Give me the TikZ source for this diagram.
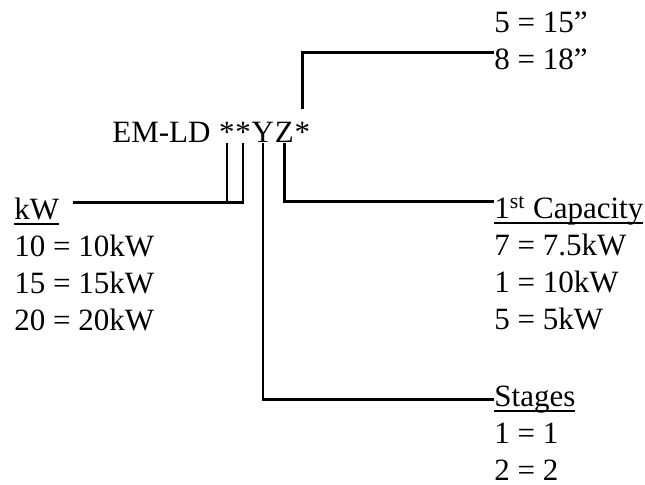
\documentclass[tikz,border=0pt]{standalone}
\usepackage{fontspec}
\setmainfont{Liberation Serif}
\usetikzlibrary{positioning}
\newcommand{\ulin}[1]{\setbox0=\hbox{#1}\rlap{\rule[-2.5pt]{\wd0}{1pt}}\box0}

\begin{document}
\begin{tikzpicture}[x=0.5pt, y=-0.5pt,
	lbl/.style={anchor=base west, inner sep=0pt, text height=13pt, text depth=5.5pt, font=\fontsize{15.5pt}{18.5pt}\selectfont},
	chr/.style={inner sep=0pt, text height=10.5pt, text depth=0pt, font=\fontsize{15.5pt}{18.5pt}\selectfont},
	wire/.style={line width=1.1pt}]
		\pgfmathsetmacro{\up}{5}
		\useasboundingbox (0,0) rectangle (645,485);
		
		% 型号
		\node[chr, anchor=base west] (model) at (112,143) {EM-LD};
		\node[chr, base right=3.9pt of model] (s1) {*};
		\node[chr, base right=0pt of s1] (s2) {*};
		\node[chr, base right=0pt of s2] (Y) {Y};
		\node[chr, base right=0pt of Y] (Z) {Z};
		\node[chr, base right=0pt of Z] (s3) {*};
		
		% 尺寸
		\node[lbl] (o15) at (494,33) {5 = 15”};
		\node[lbl] (o18) at (494,70) {8 = 18”};
		
		% 功率
		\node[lbl] (kW) at (14,220) {\ulin{kW}};
		\node[lbl] (k10) at (14,257) {10 = 10kW};
		\node[lbl] (k15) at (14,294) {15 = 15kW};
		\node[lbl] (k20) at (14,331) {20 = 20kW};
		
		% 第一级容量
		\node[lbl] (cap) at (494,219) {\ulin{1\textsuperscript{st} Capacity}};
		\node[lbl] (c7) at (494,256) {7 = 7.5kW};
		\node[lbl] (c1) at (494,293) {1 = 10kW};
		\node[lbl] (c5) at (494,330) {5 = 5kW};
		
		% 级数
		\node[lbl] (stg) at (494,407) {\ulin{Stages}};
		\node[lbl] (g1) at (494,444) {1 = 1};
		\node[lbl] (g2) at (494,481) {2 = 2};
		
		% 连线
		\draw[wire] ([yshift=6.5pt]s3.north) |- ([yshift=\up pt]o18.west);
		\coordinate (kwL) at ([xshift=6.5pt, yshift=\up pt]kW.east);
		\draw[wire] (kwL) -| (s2.south);
		\draw[wire] (s1.south) -- (s1.south |- kwL);
		\draw[wire] (Z.south) |- ([yshift=\up pt]cap.west);
		\draw[wire] (Y.south) |- (stg.west);
	\end{tikzpicture}
\end{document}
